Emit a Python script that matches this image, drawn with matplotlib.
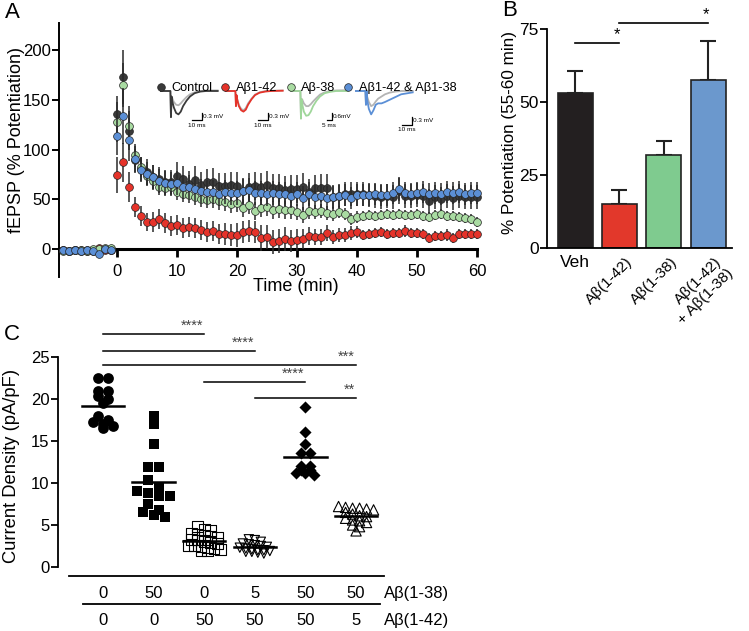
import numpy as np
import matplotlib.pyplot as plt
from matplotlib.lines import Line2D

plt.rcParams['font.family'] = ['Liberation Sans', 'DejaVu Sans']

W, H = 749, 631

# ---------------- panel A : fEPSP time course ----------------
time_pre = [-9, -8, -7, -6, -5, -4, -3, -2, -1]
time_post = list(range(0, 61))

ctrl_pre = [-1, -2, -1, -2, -1, -2, -1, 0, -1]
ctrl = [136, 173, 119, 89, 80, 77, 72, 70, 67, 67,
        73, 70, 65, 69, 64, 67, 67, 63, 63, 64,
        63, 58, 62, 63, 62, 64, 61, 61, 59, 60,
        60, 62, 57, 61, 61, 61, 52, 53, 55, 55,
        55, 55, 54, 53, 52, 53, 52, 58, 53, 53,
        54, 53, 48, 52, 50, 53, 51, 53, 52, 52, 52]
ctrl_err = [18, 27, 20, 12, 12, 13, 12, 12, 12, 12,
            14, 13, 13, 14, 13, 13, 14, 13, 13, 13,
            14, 13, 14, 14, 14, 14, 14, 14, 14, 14,
            14, 14, 13, 13, 14, 14, 12, 12, 12, 12,
            12, 12, 12, 12, 12, 12, 12, 13, 12, 12,
            12, 12, 12, 12, 12, 12, 12, 12, 12, 12, 12]

red_pre = [-1, -2, -1, -1, -2, -1, 1, -1, -1]
red = [74, 87, 62, 42, 33, 27, 27, 30, 26, 23,
       24, 21, 22, 21, 19, 17, 18, 15, 15, 14,
       14, 17, 18, 17, 11, 12, 7, 8, 10, 8,
       9, 10, 13, 12, 12, 16, 12, 14, 14, 16,
       17, 14, 15, 16, 17, 15, 16, 16, 18, 16,
       16, 15, 11, 13, 13, 14, 11, 15, 15, 15, 15]
red_err = [18, 20, 15, 10, 10, 9, 10, 10, 10, 10,
           10, 10, 10, 10, 10, 10, 10, 10, 11, 11,
           12, 11, 11, 11, 13, 12, 12, 12, 12, 11,
           11, 10, 9, 8, 8, 8, 7, 7, 7, 7,
           6, 5, 5, 5, 5, 5, 5, 5, 6, 5,
           5, 5, 5, 5, 5, 6, 5, 5, 5, 5, 5]

green_pre = [-2, -2, -1, -1, -2, 0, 0, 1, 1]
green = [128, 165, 124, 94, 82, 73, 68, 62, 61, 62,
         57, 55, 54, 52, 50, 49, 50, 48, 47, 45,
         46, 41, 44, 38, 41, 42, 39, 40, 39, 39,
         37, 34, 38, 37, 38, 36, 35, 37, 35, 30,
         32, 33, 34, 33, 34, 35, 34, 35, 34, 34,
         35, 33, 32, 34, 35, 33, 33, 32, 31, 30, 27]
green_err = [20, 22, 20, 12, 10, 9, 9, 8, 8, 8,
             8, 8, 8, 8, 8, 8, 9, 9, 9, 9,
             9, 9, 9, 9, 9, 9, 9, 9, 9, 9,
             8, 8, 8, 7, 7, 7, 7, 6, 6, 6,
             6, 5, 5, 5, 5, 5, 5, 5, 5, 5,
             5, 5, 5, 5, 5, 5, 5, 5, 5, 5, 5]

blue_pre = [-1, -2, -1, -2, -1, -2, -5, 0, -1]
blue = [114, 134, 110, 90, 79, 75, 72, 68, 66, 65,
        66, 62, 62, 60, 58, 57, 57, 55, 57, 56,
        56, 58, 59, 56, 56, 55, 56, 55, 55, 53,
        55, 51, 55, 52, 53, 51, 52, 53, 54, 51,
        54, 54, 54, 55, 54, 54, 56, 60, 56, 55,
        56, 57, 55, 56, 55, 57, 56, 57, 55, 56, 56]
blue_err = [20, 28, 22, 14, 12, 12, 12, 12, 12, 12,
            12, 12, 12, 12, 12, 12, 12, 12, 12, 12,
            12, 12, 12, 12, 12, 12, 12, 12, 12, 12,
            12, 12, 12, 12, 12, 12, 11, 11, 11, 11,
            11, 11, 11, 11, 11, 11, 11, 12, 11, 11,
            11, 11, 11, 11, 11, 11, 11, 11, 11, 11, 11]
pre_err = [2, 2, 2, 2, 2, 2, 3, 3, 2]

series_names = ['Control', 'Aβ1-42', 'Aβ-38', 'Aβ1-42 & Aβ1-38']
series_colors = ['#3a3a3a', '#e5332a', '#a9dba2', '#5b8fd6']

# example traces (ms, mV): coloured = after LTP, grey = baseline
trace_t = [0, 9, 9.5, 10, 10.5, 12, 14, 16, 18, 20, 23, 26, 30, 35, 40, 50]
trace_ctrl = [0, 0, -0.95, -0.2, -0.35, -0.6, -0.8, -0.85, -0.75, -0.55, -0.35, -0.2, -0.08, -0.02, 0, 0]
trace_ctrl_base = [0, 0, -0.95, -0.2, -0.25, -0.4, -0.5, -0.52, -0.45, -0.35, -0.22, -0.12, -0.05, 0, 0.02, 0.02]
trace_red = [0, 0, -0.55, -0.15, -0.3, -0.55, -0.7, -0.75, -0.68, -0.5, -0.3, -0.15, -0.06, -0.02, 0, 0.01]
trace_red_base = [0, 0, -0.55, -0.15, -0.28, -0.5, -0.65, -0.7, -0.62, -0.45, -0.28, -0.13, -0.05, 0, 0.01, 0.02]
trace_green = [0, 0, -1.0, -0.3, -0.45, -0.75, -0.9, -0.88, -0.75, -0.55, -0.35, -0.2, -0.08, -0.03, 0, 0]
trace_green_base = [0, 0, -1.0, -0.3, -0.3, -0.45, -0.55, -0.55, -0.48, -0.38, -0.25, -0.13, -0.05, 0, 0.02, 0.03]
trace_blue = [0, 0, -0.5, 0.0, -0.3, -0.65, -0.85, -0.7, -0.5, -0.45, -0.45, -0.4, -0.32, -0.22, -0.12, -0.05]
trace_blue_base = [0, 0, -0.5, 0.0, -0.2, -0.4, -0.55, -0.5, -0.38, -0.28, -0.2, -0.12, -0.06, -0.02, 0, 0]
scale_v = ['0.3 mV', '0.3 mV', '0.6mV', '0.3 mV']
scale_h = ['10 ms', '10 ms', '5 ms', '10 ms']

# ---------------- panel B : potentiation bars ----------------
bar_labels = ['Veh', 'Aβ(1-42)', 'Aβ(1-38)', 'Aβ(1-42)\n+ Aβ(1-38)']
bar_vals = [53, 15, 32, 57.5]
bar_err = [7.5, 5, 4.5, 13.5]
bar_colors = ['#231f20', '#e2382b', '#7fcb8f', '#6b98cd']

# ---------------- panel C : current density ----------------
row_138 = ['0', '50', '0', '5', '50', '50']
row_142 = ['0', '0', '50', '50', '50', '5']
cd_g1 = [22.5, 22.5, 21.0, 21.0, 20.3, 20.0, 19.5, 18.0, 17.5, 17.3, 17.0, 16.8, 16.5]
cd_g2 = [18.0, 17.0, 14.7, 11.9, 11.9, 10.3, 9.5, 9.0, 8.8, 8.5, 8.5, 7.5, 6.8, 6.6, 6.2, 5.9]
cd_g3 = [4.8, 4.5, 4.3, 4.0, 3.9, 3.8, 3.6, 3.5, 3.3, 3.2, 3.0, 2.9, 2.8, 2.6, 2.5, 2.4, 2.3, 2.2, 2.1, 2.0, 2.0]
cd_g4 = [3.3, 3.2, 3.0, 2.8, 2.7, 2.6, 2.5, 2.4, 2.3, 2.2, 2.1, 2.0, 2.0, 1.9, 1.8, 1.8, 1.7, 1.6]
cd_g5 = [19.0, 16.1, 14.7, 13.6, 13.6, 12.0, 12.0, 11.6, 11.6, 11.2, 11.2, 10.9]
cd_g6 = [7.2, 7.1, 7.0, 7.0, 6.9, 6.8, 6.5, 6.3, 6.1, 6.0, 5.8, 5.6, 5.5, 5.3, 5.0, 4.8, 4.3]
sig_pairs = [(0, 2), (0, 3), (0, 5), (2, 4), (3, 5)]
sig_heights = [27.7, 25.7, 24.0, 22.0, 20.1]
sig_text = ['****', '****', '***', '****', '**']


def px_axes(fig, left, top, right, bottom):
    return fig.add_axes([left / W, 1 - bottom / H, (right - left) / W, (bottom - top) / H])


def row_offsets(vals, row_h, spacing_px, xpx):
    # GraphPad-like scatter: points within one row height are spread symmetrically
    order = np.argsort(vals)[::-1]
    offs = np.zeros(len(vals))
    rows, cur, top = [], [], None
    for idx in order:
        v = vals[idx]
        if top is None or top - v <= row_h:
            if top is None:
                top = v
            cur.append(idx)
        else:
            rows.append(cur)
            cur, top = [idx], v
    rows.append(cur)
    for r in rows:
        n = len(r)
        for k, idx in enumerate(r):
            offs[idx] = (k - (n - 1) / 2) * spacing_px / xpx
    return offs


fig = plt.figure(figsize=(W / 100, H / 100), dpi=100)

# ===== A =====
ax = px_axes(fig, 59, 23, 482, 277)
ax.set_xlim(-9.67, 60.83)
ax.set_ylim(-28.1, 227.1)
pre = [ctrl_pre, red_pre, green_pre, blue_pre]
post = [ctrl, red, green, blue]
errs = [ctrl_err, red_err, green_err, blue_err]
for i in range(4):
    t = time_pre + time_post
    y = pre[i] + post[i]
    e = pre_err + errs[i]
    ax.errorbar(t, y, yerr=e, fmt='none', ecolor='#2a2a2a', elinewidth=1.1, zorder=2 + i)
    ax.plot(t, y, 'o', ms=5.6, mfc=series_colors[i], mec='#222222', mew=0.5, zorder=2.5 + i)
for s in ['top', 'right']:
    ax.spines[s].set_visible(False)
ax.spines['bottom'].set_position(('data', 0))
ax.spines['bottom'].set_linewidth(2.2)
ax.spines['bottom'].set_bounds(-9.67, 60)
ax.spines['left'].set_linewidth(1.4)
ax.set_xticks([0, 10, 20, 30, 40, 50, 60])
ax.set_yticks([0, 50, 100, 150, 200])
ax.tick_params(axis='x', length=6, width=2, pad=5, labelsize=12)
ax.tick_params(axis='y', length=5, width=1.4, pad=1, labelsize=12)
ax.set_xlabel('Time (min)', fontsize=13)
ax.xaxis.set_label_coords(0.56, -0.005)
ax.set_ylabel('fEPSP (% Potentiation)', fontsize=13)
ax.yaxis.set_label_coords(-0.08, 0.54)

handles = [Line2D([], [], ls='none', marker='o', ms=5.5, mfc=c, mec='#222222', mew=0.5)
           for c in series_colors]
fig.legend(handles, series_names, loc='center left', bbox_to_anchor=(157 / W, 1 - 88 / H),
           ncol=4, frameon=False, fontsize=9.2, handlelength=0.6, handletextpad=0.5,
           columnspacing=0.75, borderaxespad=0, borderpad=0)

traces = [(trace_ctrl, trace_ctrl_base), (trace_red, trace_red_base),
          (trace_green, trace_green_base), (trace_blue, trace_blue_base)]
inset_left = [160, 225, 290, 355]
bar_xpos = [36.4, 37.3, 36.4, 49.4]
bar_ypos = [-0.8, -0.8, -0.8, -0.95]
bar_w = [10, 10, 5, 10]
for i in range(4):
    ia = px_axes(fig, inset_left[i], 86, inset_left[i] + 60, 140)
    ia.set_xlim(0, 52)
    ia.set_ylim(-(140 - 91) / 27.5, (91 - 86) / 27.5)
    ia.axis('off')
    ia.plot(trace_t, traces[i][1], color='#b4b4b4', lw=1.3)
    ia.plot(trace_t, traces[i][0], color=series_colors[i] if i != 2 else '#9fd69a', lw=1.3)
    bx, by = bar_xpos[i], bar_ypos[i]
    ia.plot([bx - bar_w[i] * 0.85, bx, bx], [by - 0.27, by - 0.27, by], color='black', lw=0.9)
    ia.text(bx + 1.0, by - 0.14, scale_v[i], fontsize=4.6, va='center', ha='left')
    ia.text(bx - bar_w[i] * 0.45, by - 0.37, scale_h[i], fontsize=4.6, va='top', ha='center')

# ===== B =====
bx_ax = px_axes(fig, 547, 10, 732, 248)
xb = np.arange(len(bar_vals))
bx_ax.bar(xb, bar_vals, width=0.79, color=bar_colors, edgecolor='#222222', linewidth=1.2, zorder=2)
bx_ax.errorbar(xb, bar_vals, yerr=[np.zeros(len(bar_err)), bar_err], fmt='none', ecolor='#222222',
               elinewidth=1.5, capsize=5.5, capthick=1.5, zorder=1)
bx_ax.set_xlim(-0.632, 3.54)
bx_ax.set_ylim(0, 81.5)
for s in ['top', 'right']:
    bx_ax.spines[s].set_visible(False)
bx_ax.spines['left'].set_bounds(0, 75)
bx_ax.spines['left'].set_linewidth(1.3)
bx_ax.spines['bottom'].set_linewidth(1.3)
bx_ax.set_yticks([0, 25, 50, 75])
bx_ax.tick_params(axis='y', length=5, width=1.3, pad=1, labelsize=12.5)
bx_ax.set_xticks([])
bx_ax.set_ylabel('% Potentiation (55-60 min)', fontsize=12.3)
bx_ax.yaxis.set_label_coords(-0.162, 0.487)
trb = bx_ax.get_xaxis_transform()
bx_ax.text(0, -0.03, bar_labels[0], transform=trb, ha='center', va='top', fontsize=12.5)
for i in range(1, 4):
    bx_ax.text(i + 0.14, -0.03, bar_labels[i], transform=trb, ha='right', va='top',
               rotation=45, rotation_mode='anchor', fontsize=11, multialignment='right')
for (a, b), yy in [((0, 1), 70.2), ((1, 3), 77.0)]:
    bx_ax.plot([a, b], [yy, yy], color='black', lw=1.2, clip_on=False)
    bx_ax.text(b - 0.05, yy + 0.3, '*', ha='center', va='bottom', fontsize=12, clip_on=False)

# ===== C =====
cx = px_axes(fig, 58, 320, 392, 575)
cx.set_xlim(-0.889, 5.71)
cx.set_ylim(-0.952, 29.4)
groups = [cd_g1, cd_g2, cd_g3, cd_g4, cd_g5, cd_g6]
markers = ['o', 's', 's', 'v', 'D', '^']
filled = [True, True, False, False, True, False]
msize = [60, 55, 60, 45, 38, 55]
row_h = [0.6, 0.9, 0.55, 0.45, 0.35, 0.5]
spacing = [10, 11, 6.5, 6, 9, 7]
for g, vals in enumerate(groups):
    offs = row_offsets(np.array(vals), row_h[g], spacing[g], 50.6)
    if filled[g]:
        cx.scatter(g + offs, vals, s=msize[g], marker=markers[g], c='black', linewidths=0, zorder=3)
    else:
        cx.scatter(g + offs, vals, s=msize[g], marker=markers[g], facecolors='none',
                   edgecolors='black', linewidths=0.8, zorder=3)
    m = np.mean(vals)
    cx.plot([g - 0.42, g + 0.42], [m, m], color='black', lw=1.8, zorder=4)
for (a, b), yy, st in zip(sig_pairs, sig_heights, sig_text):
    cx.plot([a, b], [yy, yy], color='black', lw=1.1, clip_on=False)
    cx.text(b - 0.02, yy + 0.2, st, ha='right', va='bottom', fontsize=10.5, color='#444444')
for s in ['top', 'right', 'bottom']:
    cx.spines[s].set_visible(False)
cx.spines['left'].set_bounds(0, 25)
cx.spines['left'].set_linewidth(1.3)
cx.set_xticks([])
cx.set_yticks([0, 5, 10, 15, 20, 25])
cx.tick_params(axis='y', length=5, width=1.3, pad=1, labelsize=12)
cx.set_ylabel('Current Density (pA/pF)', fontsize=13.2)
cx.yaxis.set_label_coords(-0.114, 0.427)

trc = cx.get_xaxis_transform()
cx.plot([-0.672, 5.55], [-0.004, -0.004], transform=trc, color='black', lw=1.3, clip_on=False)
cx.plot([-0.395, 5.47], [-0.1137, -0.1137], transform=trc, color='black', lw=1.3, clip_on=False)
for g in range(6):
    cx.text(g, -0.0706, row_138[g], transform=trc, ha='center', va='center', fontsize=12)
    cx.text(g, -0.1765, row_142[g], transform=trc, ha='center', va='center', fontsize=12)
cx.text(5.55, -0.0706, 'Aβ(1-38)', transform=trc, ha='left', va='center', fontsize=12)
cx.text(5.55, -0.1765, 'Aβ(1-42)', transform=trc, ha='left', va='center', fontsize=12)

fig.text(12 / W, 1 - 12 / H, 'A', fontsize=16, ha='center', va='center')
fig.text(510 / W, 1 - 11 / H, 'B', fontsize=16, ha='center', va='center')
fig.text(12 / W, 1 - 335 / H, 'C', fontsize=16, ha='center', va='center')

fig.savefig('out.png', dpi=100)
